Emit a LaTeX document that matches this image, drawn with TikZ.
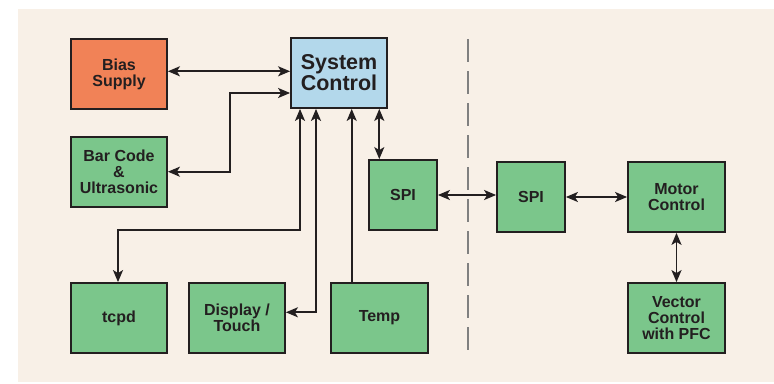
\documentclass[tikz,border=0pt]{standalone}
\usepackage{fontspec}
\setmainfont{Liberation Sans}
\usetikzlibrary{arrows.meta}
\definecolor{bgc}{HTML}{F8F0E7}
\definecolor{orangec}{HTML}{F18257}
\definecolor{greenc}{HTML}{7BC68B}
\definecolor{bluec}{HTML}{B3D8EB}
\definecolor{inkc}{HTML}{231F20}
\definecolor{dashc}{HTML}{808080}
\tikzset{
  blk/.style={draw=inkc, line width=1.8pt, text=inkc, align=center,
    minimum width=96pt, minimum height=70pt, inner sep=0pt,
    font=\bfseries\fontsize{16}{16}\selectfont},
  gblk/.style={blk, fill=greenc},
  conn/.style={draw=inkc, line width=1.8pt, arrows={Stealth[length=12pt,width=10pt,inset=3pt]-Stealth[length=12pt,width=10pt,inset=3pt]}},
  conn1/.style={draw=inkc, line width=1.8pt, arrows={-Stealth[length=12pt,width=10pt,inset=3pt]}}
}
\begin{document}
\begin{tikzpicture}[x=1pt,y=-1pt]
\useasboundingbox (0,0) rectangle (774,383);
\fill[bgc] (18,9) rectangle (774,382);
% nodes
\node[blk, fill=orangec] (bias) at (119,74) {Bias\\Supply};
\node[gblk] (bar) at (119,172) {Bar Code\\\&\\Ultrasonic};
\node[blk, fill=bluec, font=\bfseries\fontsize{21.5}{20}\selectfont] (sc) at (339,73) {System\\Control};
\node[gblk, minimum width=68pt] (spia) at (403,195) {SPI};
\node[gblk, minimum width=68pt] (spib) at (531,197) {SPI};
\node[gblk, minimum width=97pt] (motor) at (676.5,197) {Motor\\Control};
\node[gblk, minimum width=97pt] (vector) at (676.5,318) {Vector\\Control\\with PFC};
\node[gblk] (tcpd) at (119,318) {tcpd};
\node[gblk] (disp) at (237,318) {Display /\\Touch};
\node[gblk, minimum width=97pt] (temp) at (379.5,318) {Temp};
% corner coordinates
\coordinate (b1) at (230,93);
\coordinate (b2) at (230,171.7);
\coordinate (t1) at (300,230);
\coordinate (t2) at (118,230);
\coordinate (d1) at (316,312.3);
% connectors
\draw[conn] (bias.east |- 0,71.3) -- (sc.west |- 0,71.3);
\draw[conn] (sc.west |- b1) -- (b1) -- (b2) -- (bar.east |- b2);
\draw[conn] (sc.south -| t1) -- (t1) -- (t2) -- (tcpd.north -| t2);
\draw[conn] (sc.south -| d1) -- (d1) -- (disp.east |- d1);
\draw[conn1] (temp.north -| 351.7,0) -- (sc.south -| 351.7,0);
\draw[conn] (sc.south -| 379.3,0) -- (spia.north -| 379.3,0);
\draw[conn] (spia.east) -- (spib.west |- spia.east);
\draw[conn] (spib.east) -- (motor.west);
\draw[conn] (motor.south) -- (vector.north);
% divider
\draw[dashc, line width=2pt, dash pattern=on 23pt off 9pt] (468,39.3) -- (468,352);
\end{tikzpicture}
\end{document}
